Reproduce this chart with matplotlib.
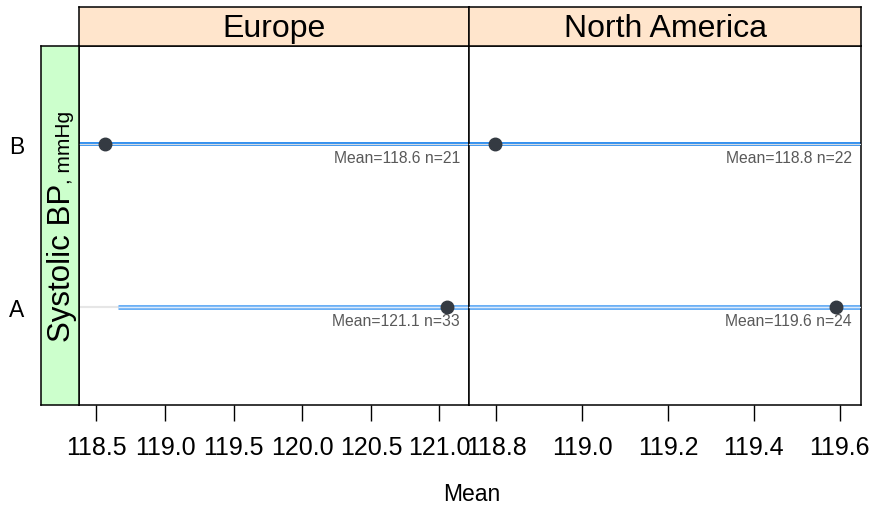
import matplotlib
matplotlib.use("Agg")
import matplotlib.pyplot as plt
import matplotlib.transforms as mtransforms

plt.rcParams['font.family'] = ['Liberation Sans', 'DejaVu Sans']

# Data
regions = ["Europe", "North America"]
groups = ["A", "B"]
group_pos = [1, 2]
means = {"Europe": [121.056, 118.56], "North America": [119.592, 118.797]}
counts = {"Europe": [33, 21], "North America": [24, 22]}
ci_low = {"Europe": [118.66, 116.0], "North America": [118.3, 116.9]}
ci_high = {"Europe": [123.5, 121.3], "North America": [120.9, 120.7]}
xticks = {"Europe": [118.5, 119.0, 119.5, 120.0, 120.5, 121.0],
          "North America": [118.8, 119.0, 119.2, 119.4, 119.6]}
xlims = {"Europe": (118.373, 121.215), "North America": (118.736, 119.650)}
var_label = "Systolic BP"
unit_label = ", mmHg"
x_label = "Mean"

W, H = 869, 510
fig = plt.figure(figsize=(W / 100, H / 100), dpi=100)


def box(x0, y0, x1, y1):
    # pixel box (top-left origin) -> figure fraction rect
    return [x0 / W, (H - y1) / H, (x1 - x0) / W, (y1 - y0) / H]


panel_px = {"Europe": (79, 469), "North America": (469, 861)}
top_y, bot_y = 47, 406
strip_top = 8

line_styles = [  # per group: (outer colour, inner colour, outer lw, inner lw)
    ("#6cb0f5", "#dceafb", 3.6, 1.0),
    ("#2b8cef", "#d6dce3", 2.8, 0.9),
]

for r in regions:
    x0, x1 = panel_px[r]
    ax = fig.add_axes(box(x0, top_y, x1, bot_y))
    ax.set_xlim(*xlims[r])
    ax.set_ylim(0.4, 2.6)
    for s in ax.spines.values():
        s.set_linewidth(1.1)
    for i, g in enumerate(groups):
        y = group_pos[i]
        ax.axhline(y, color="#e6e6e6", lw=1.5, zorder=1)
        oc, ic, olw, ilw = line_styles[i]
        ax.plot([ci_low[r][i], ci_high[r][i]], [y, y], color=oc, lw=olw,
                solid_capstyle="butt", zorder=2)
        ax.plot([ci_low[r][i], ci_high[r][i]], [y, y], color=ic, lw=ilw,
                solid_capstyle="butt", zorder=3)
        ax.plot(means[r][i], y, "o", color="#343a42", ms=9, mec="#343a42",
                zorder=4, clip_on=False)
        ax.annotate(f"Mean={means[r][i]:.1f} n={counts[r][i]}",
                    xy=(1, y), xycoords=mtransforms.blended_transform_factory(ax.transAxes, ax.transData),
                    xytext=(-6.5, -10), textcoords="offset points",
                    ha="right", va="center", fontsize=11.3, color="#595959")
    ax.set_xticks(xticks[r])
    ax.set_xticklabels([f"{v:.1f}" for v in xticks[r]], fontsize=18)
    ax.tick_params(axis="x", direction="out", length=11.5, width=1.0, pad=10)
    ax.set_yticks([])

    # strip above each panel
    sax = fig.add_axes(box(x0, strip_top, x1, top_y))
    sax.set_facecolor("#ffe5cc")
    sax.set_xticks([]); sax.set_yticks([])
    for s in sax.spines.values():
        s.set_linewidth(1.1)
    sax.text(0.5, 0.47, r, ha="center", va="center", fontsize=23,
             transform=sax.transAxes)

# variable strip on the left
lax = fig.add_axes(box(41, top_y, 79, bot_y))
lax.set_facecolor("#ccffcc")
lax.set_xlim(0, 1)
lax.set_ylim(0.4, 2.6)
lax.set_xticks([])
lax.set_yticks(group_pos)
lax.set_yticklabels(groups, fontsize=16.5)
lax.tick_params(axis="y", length=0, pad=12)
for s in lax.spines.values():
    s.set_linewidth(1.1)

t1 = lax.text(0.77, 0.5, var_label, rotation=90, rotation_mode="anchor",
              ha="center", va="baseline", fontsize=22.5, transform=lax.transAxes)
fig.canvas.draw()
rend = fig.canvas.get_renderer()
bb1 = t1.get_window_extent(rend)
t2 = lax.text(0, 0, unit_label, rotation=90, rotation_mode="anchor",
              ha="left", va="baseline", fontsize=15)
bb2 = t2.get_window_extent(rend)
total = bb1.height + bb2.height
ymid = (bb1.y0 + bb1.y1) / 2
start = ymid - total / 2
inv = lax.transAxes.inverted()
xa, ya = inv.transform((0, start))
t1.set_ha("left")
t1.set_position((0.77, ya))
_, yb = inv.transform((0, start + bb1.height))
t2.set_position((0.77, yb))
t2.set_transform(lax.transAxes)

fig.text(472 / W, (H - 495) / H, x_label, ha="center", va="center", fontsize=16.5)

fig.savefig("out.png", dpi=100)
